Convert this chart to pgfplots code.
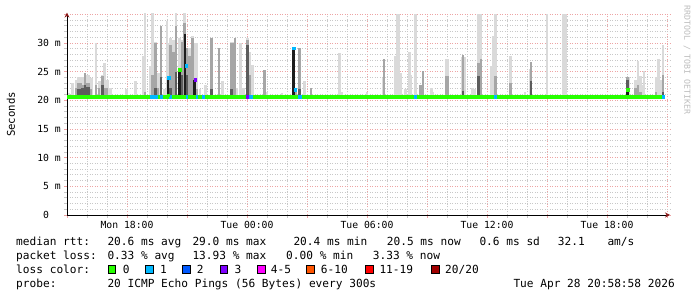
\documentclass[border=0pt]{standalone}
\usepackage{fontspec}
\setmainfont{DejaVu Sans}
\setmonofont{DejaVu Sans Mono}
\usepackage{pgfplots}
\pgfplotsset{compat=1.18}
\usepackage{pgfplotstable}
\usetikzlibrary{arrows.meta}
\definecolor{cL}{HTML}{DADADA}
\definecolor{cM}{HTML}{A6A6A6}
\definecolor{cD}{HTML}{5C5C5C}
\definecolor{cK}{HTML}{1C1C1C}
\definecolor{loss0}{HTML}{26FF00}
\definecolor{loss1}{HTML}{00B8FF}
\definecolor{loss2}{HTML}{0059FF}
\definecolor{loss3}{HTML}{7E00FF}
\definecolor{loss4}{HTML}{FF00FF}
\definecolor{loss6}{HTML}{FF5500}
\definecolor{loss11}{HTML}{FF0000}
\definecolor{loss20}{HTML}{A10000}
\definecolor{gridR}{HTML}{EDA4A4}
\definecolor{gridG}{HTML}{C8C8C8}
\definecolor{wm}{HTML}{BDBDBD}
\definecolor{arr}{HTML}{8B1A1A}
\newcommand\legfont{\ttfamily\fontsize{11.2}{13}\selectfont}
\newcommand\tickfont{\ttfamily\fontsize{9.8}{11}\selectfont}

\pgfplotstableread{
h lo hi
15.10 20.6 21.3
15.28 20.6 23.1
15.45 20.6 23.6
15.57 20.6 24.1
15.67 20.6 24.1
15.75 20.6 24.1
15.83 20.6 24.1
15.91 20.6 24.7
16.00 20.6 24.4
16.08 20.6 24.4
16.17 20.6 23.9
16.25 20.6 23.9
16.45 20.6 30.0
16.60 20.6 23.3
16.67 20.6 23.3
16.78 20.6 24.4
16.87 20.6 26.5
16.97 20.6 23.6
17.05 20.6 23.6
17.17 20.6 22.1
17.97 20.6 21.9
18.43 20.6 23.3
18.80 20.6 27.7
18.90 20.6 35.2
19.17 20.6 25.9
19.27 20.6 35.2
19.43 20.6 30.2
19.52 20.6 24.7
19.60 20.6 24.7
19.70 20.6 32.9
19.87 20.6 21.9
20.00 20.6 33.8
20.05 20.6 30.0
20.17 20.6 30.9
20.32 20.6 30.6
20.45 20.6 35.2
20.63 20.6 30.9
20.76 20.6 30.6
20.88 20.6 35.2
21.00 20.6 27.7
21.13 20.6 29.1
21.27 20.6 31.2
21.38 20.6 30.0
21.50 20.6 30.0
21.65 20.6 21.9
21.93 20.6 22.7
22.23 20.6 30.9
22.60 20.6 23.3
22.77 20.6 23.3
23.22 20.6 30.2
23.30 20.6 30.2
23.50 20.6 22.1
23.68 20.6 30.0
23.82 20.6 22.1
24.02 20.6 30.9
24.13 20.6 28.5
24.27 20.6 26.2
24.97 20.6 21.5
25.75 20.6 21.3
26.87 20.6 23.3
28.63 20.6 28.2
28.75 20.6 21.5
30.00 20.6 21.5
30.80 20.6 23.9
31.42 20.6 27.7
31.50 20.6 35.0
31.58 20.6 35.0
31.68 20.6 24.7
31.93 20.6 21.9
32.13 20.6 28.5
32.20 20.6 24.4
32.42 20.6 35.0
32.68 20.6 22.7
33.23 20.6 22.1
33.30 20.6 21.5
33.95 20.6 27.2
34.05 20.6 27.2
34.75 20.6 27.5
34.87 20.6 27.5
35.27 20.6 22.1
35.40 20.6 21.9
35.57 20.6 35.0
35.70 20.6 35.0
36.22 20.6 25.9
36.30 20.6 31.2
36.43 20.6 35.0
37.18 20.6 27.7
37.90 20.6 21.5
38.15 20.6 25.5
39.00 20.6 35.0
39.80 20.6 35.0
39.92 20.6 35.0
43.10 20.6 24.0
43.42 20.6 23.6
43.55 20.6 26.9
43.68 20.6 24.2
43.80 20.6 22.7
43.85 20.6 25.1
44.45 20.6 24.0
44.58 20.6 27.2
44.70 20.6 23.6
44.80 20.6 29.7
}\tabL

\pgfplotstableread{
h lo hi
15.45 20.6 22.1
15.57 20.6 23.1
15.67 20.6 23.1
15.75 20.6 22.7
15.83 20.6 22.7
15.91 20.6 24.7
16.00 20.6 23.1
16.08 20.6 23.1
16.17 20.6 21.9
16.45 20.6 22.7
16.60 20.6 22.1
16.78 20.6 24.2
16.87 20.6 22.1
16.97 20.6 22.1
18.90 20.6 21.5
19.27 20.6 24.4
19.43 20.6 30.0
19.52 20.6 22.1
19.70 20.6 32.9
20.17 20.6 29.7
20.32 20.6 28.5
20.45 20.6 33.0
20.76 20.6 30.2
20.88 20.6 33.5
21.00 20.6 29.1
21.13 20.6 27.7
21.27 20.6 30.9
21.50 20.6 21.9
22.23 20.6 30.9
22.60 20.6 29.1
23.22 20.6 30.0
23.30 20.6 30.0
23.40 20.6 30.9
24.02 20.6 30.6
24.13 20.6 24.4
24.87 20.6 25.3
26.43 20.6 21.8
26.62 20.6 29.1
27.20 20.6 22.1
30.85 20.6 27.2
32.68 20.6 22.7
32.80 20.6 25.1
33.95 20.6 24.2
34.05 20.6 24.2
34.80 20.6 27.9
35.57 20.6 26.5
35.70 20.6 27.2
36.43 20.6 24.2
37.18 20.6 23.1
38.20 20.6 26.7
43.02 20.6 24.0
43.42 20.6 22.1
43.55 20.6 22.7
43.68 20.6 21.5
44.45 20.6 21.5
44.80 20.6 24.4
}\tabM

\pgfplotstableread{
h lo hi
15.57 20.6 21.9
15.67 20.6 21.9
15.75 20.6 22.1
15.83 20.6 22.1
15.91 20.6 22.7
16.00 20.6 22.4
16.08 20.6 22.4
16.78 20.6 22.7
19.43 20.6 22.1
19.70 20.6 24.0
20.17 20.6 22.1
20.45 20.6 25.0
20.76 20.6 24.4
21.00 20.6 24.4
22.23 20.6 21.9
23.22 20.6 22.0
24.02 20.6 29.7
26.62 20.6 22.0
34.80 20.6 21.6
35.57 20.6 24.2
38.20 20.6 23.3
43.02 20.6 23.6
44.80 20.6 21.5
}\tabD

\pgfplotstableread{
h lo hi
20.05 20.6 23.9
20.63 20.6 25.3
20.90 20.6 31.5
21.38 20.6 23.6
26.33 20.6 29.1
43.02 20.6 21.8
}\tabK

\pgfplotsset{smoke/.style={draw=none, no markers, forget plot,
  error bars/.cd, y dir=plus, y explicit, error mark=none,
  error bar style={line width=2.4bp, draw=#1, solid}}}

\begin{document}
\begin{tikzpicture}
\path[use as bounding box] (0,0) rectangle (697bp,297bp);
\begin{axis}[
  at={(67bp,82bp)}, anchor=south west,
  scale only axis, width=603bp, height=202.4bp,
  xmin=15, xmax=45.15, ymin=0, ymax=35.3,
  axis lines=left,
  axis line style={draw=black, line width=0.9bp},
  x axis line style={-{Stealth[length=5bp,width=5bp,color=arr]}},
  y axis line style={-{Stealth[length=5bp,width=5bp,color=arr]}},
  xtick={15,18,...,45},
  xticklabels={,Mon 18:00,,Tue 00:00,,Tue 06:00,,Tue 12:00,,Tue 18:00,},
  minor x tick num=2,
  ytick={0,5,...,35},
  yticklabels={0\hphantom{\ m},5 m,10 m,15 m,20 m,25 m,30 m,},
  minor y tick num=4,
  grid=both,
  major grid style={draw=gridR, line width=0.8bp, dash pattern=on 1bp off 1.5bp},
  minor grid style={draw=gridG, line width=0.8bp, dash pattern=on 1bp off 1.5bp},
  tick align=outside,
  major tick length=3bp, minor tick length=3bp,
  major tick style={draw=gridR, line width=0.8bp},
  minor tick style={draw=gridG, line width=0.8bp},
  xticklabel style={font=\tickfont, inner sep=0pt, anchor=north},
  yticklabel style={font=\tickfont, inner sep=0pt, anchor=east},
  xticklabel shift=3bp,
  yticklabel shift=3bp,
  unbounded coords=jump,
]
\addplot[smoke=cL] table[x=h, y=lo, y error plus expr=\thisrow{hi}-\thisrow{lo}]{\tabL};
\addplot[smoke=cM] table[x=h, y=lo, y error plus expr=\thisrow{hi}-\thisrow{lo}]{\tabM};
\addplot[smoke=cD] table[x=h, y=lo, y error plus expr=\thisrow{hi}-\thisrow{lo}]{\tabD};
\addplot[smoke=cK] table[x=h, y=lo, y error plus expr=\thisrow{hi}-\thisrow{lo}]{\tabK};
% median line
\addplot[draw=loss0, line width=3.3bp, no markers, forget plot] coordinates {(15.0,20.6) (44.9,20.6)};
\addplot[draw=loss1, line width=3.3bp, no markers, forget plot] coordinates {
(19.15,20.6) (19.55,20.6) (19.6,nan)
(19.65,20.6) (19.80,20.6) (19.9,nan)
(20.10,20.6) (20.25,20.6) (20.3,nan)
(20.95,20.6) (21.05,20.6) (21.1,nan)
(21.45,20.6) (21.55,20.6) (21.6,nan)
(21.75,20.6) (21.90,20.6) (22.0,nan)
(24.05,20.6) (24.30,20.6) (24.4,nan)
(26.55,20.6) (26.75,20.6) (26.8,nan)
(32.35,20.6) (32.50,20.6) (32.6,nan)
(36.35,20.6) (36.50,20.6) (36.6,nan)
(44.75,20.6) (44.90,20.6)};
\addplot[only marks, mark=square*, mark size=1.3bp, color=loss0, mark options={draw=loss0, fill=loss0}, forget plot] coordinates {(20.63,25.3) (43.02,21.9) (20.05,20.9)};
\addplot[only marks, mark=square*, mark size=1.3bp, color=loss1, mark options={draw=loss1, fill=loss1}, forget plot] coordinates {(20.07,23.9) (20.95,26.0) (26.33,29.1) (26.40,21.9)};
\addplot[only marks, mark=square*, mark size=1.3bp, color=loss3, mark options={draw=loss3, fill=loss3}, forget plot] coordinates {(21.40,23.6) (24.00,20.6)};
\end{axis}
\node[rotate=90, inner sep=0pt, font=\ttfamily\fontsize{10.7}{12}\selectfont] at (11bp,182.5bp) {Seconds};
\node[rotate=-90, anchor=west, inner sep=0pt, font=\ttfamily\fontsize{8.3}{9}\selectfont, text=wm] at (687bp,292bp) {RRDTOOL / TOBI OETIKER};
% legend lines
\begin{scope}[every node/.style={anchor=base west, inner sep=0pt, font=\legfont}]
\node at (16bp,51.7bp) {median rtt:};
\node at (107.3bp,51.7bp) {20.6 ms avg};
\node at (192.3bp,51.7bp) {29.0 ms max};
\node at (293.3bp,51.7bp) {20.4 ms min};
\node at (386.7bp,51.7bp) {20.5 ms now};
\node at (479.3bp,51.7bp) {0.6 ms sd};
\node at (557.7bp,51.7bp) {32.1};
\node at (607.3bp,51.7bp) {am/s};
\node at (16bp,37.7bp) {packet loss:};
\node at (107.3bp,37.7bp) {0.33 \% avg};
\node at (192.3bp,37.7bp) {13.93 \% max};
\node at (286bp,37.7bp) {0.00 \% min};
\node at (372.7bp,37.7bp) {3.33 \% now};
\node at (16bp,23.7bp) {loss color:};
\node at (122.7bp,23.7bp) {0};
\node at (160bp,23.7bp) {1};
\node at (196.7bp,23.7bp) {2};
\node at (234.3bp,23.7bp) {3};
\node at (270.7bp,23.7bp) {4-5};
\node at (320.7bp,23.7bp) {6-10};
\node at (379.3bp,23.7bp) {11-19};
\node at (445bp,23.7bp) {20/20};
\node at (16bp,9.7bp) {probe:};
\node at (107.3bp,9.7bp) {20 ICMP Echo Pings (56 Bytes) every 300s};
\node at (513.3bp,9.7bp) {Tue Apr 28 20:58:58 2026};
\end{scope}
\begin{scope}[line width=0.8bp, draw=black]
\draw[fill=loss0] (108.3bp,23.7bp) rectangle (115.7bp,31.7bp);
\draw[fill=loss1] (145.7bp,23.7bp) rectangle (153.3bp,31.7bp);
\draw[fill=loss2] (182.7bp,23.7bp) rectangle (190.7bp,31.7bp);
\draw[fill=loss3] (220bp,23.7bp) rectangle (227.7bp,31.7bp);
\draw[fill=loss4] (257.3bp,23.7bp) rectangle (265bp,31.7bp);
\draw[fill=loss6] (306.7bp,23.7bp) rectangle (314.3bp,31.7bp);
\draw[fill=loss11] (365.7bp,23.7bp) rectangle (373bp,31.7bp);
\draw[fill=loss20] (431bp,23.7bp) rectangle (439bp,31.7bp);
\end{scope}
\end{tikzpicture}
\end{document}
